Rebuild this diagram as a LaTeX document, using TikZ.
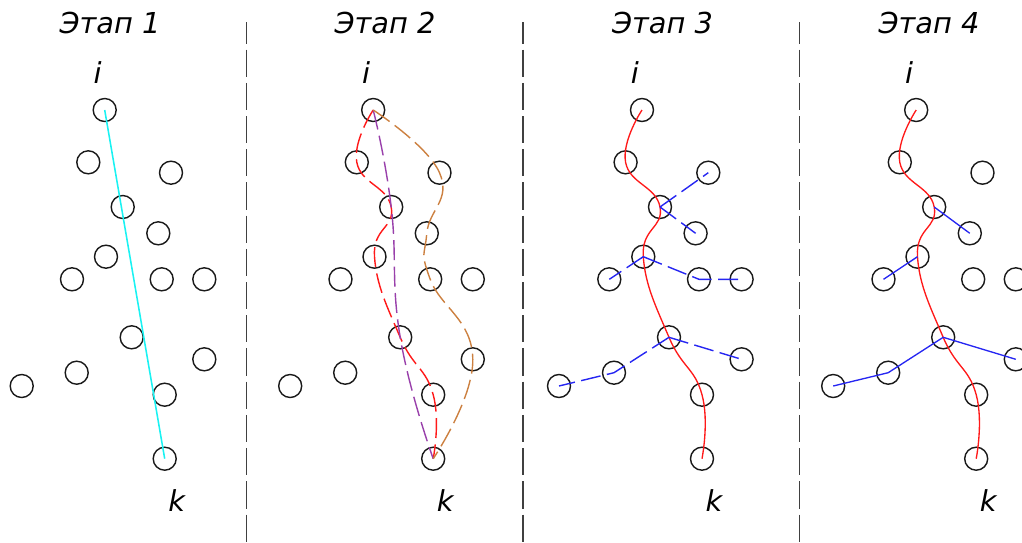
\documentclass[tikz,border=0pt]{standalone}
\usepackage{fontspec}
\setmainfont{DejaVu Sans}
\usepackage{tikz}
\usetikzlibrary{positioning}
\tikzset{vertex/.style = {circle, draw=black!90, line width=1pt,
                          minimum size=0.575cm, inner sep=0pt},
         heading/.style = {font=\fontsize{20.5}{24}\selectfont\itshape,
                           anchor=base, inner sep=0pt},
         lbl/.style = {font=\fontsize{20.5}{24}\selectfont\itshape, inner sep=0pt},
         divider/.style = {draw=black!75, line width=1.1pt,
                           dash pattern=on 0.68cm off 0.15cm, dash phase=0.14cm},
         route/.style = {line width=1pt, dash pattern=on 0.5cm off 0.16cm},
         tree/.style = {line width=0.95pt}}
\definecolor{mred}{rgb}{1, 0.1, 0.1}
\definecolor{mcyan}{rgb}{0.1, 0.95, 0.95}
\definecolor{mpurple}{rgb}{0.6, 0.25, 0.67}
\definecolor{morange}{rgb}{0.8, 0.5, 0.25}
\definecolor{mblue}{rgb}{0.15, 0.15, 0.95}

\begin{document}
\begin{tikzpicture}[x=0.025cm, y=-0.025cm]
    \useasboundingbox (0, 0) rectangle (1022, 542);

    \foreach \s/\dx in {1/0, 2/268.5, 3/537.3, 4/811.5} {
      \begin{scope}[shift={(\dx, 0)}]
        \node [vertex] (i\s) at (104.7, 110) {};
        \node [vertex] (a\s) at (88.3, 162.3) {};
        \node [vertex] (b\s) at (171, 172.7) {};
        \node [vertex] (c\s) at (122.7, 207) {};
        \node [vertex] (d\s) at (158.3, 233.3) {};
        \node [vertex] (e\s) at (106, 256.7) {};
        \node [vertex] (f\s) at (72, 279.3) {};
        \node [vertex] (g\s) at (161.7, 279.3) {};
        \node [vertex] (h\s) at (204.3, 279.3) {};
        \node [vertex] (m\s) at (131.7, 337.3) {};
        \node [vertex] (n\s) at (204.3, 359.3) {};
        \node [vertex] (p\s) at (76.7, 372.7) {};
        \node [vertex] (q\s) at (21.7, 386) {};
        \node [vertex] (r\s) at (164.7, 394.7) {};
        \node [vertex] (k\s) at (164.7, 458.7) {};
        \node [lbl, above=0.34cm of i\s, xshift=-0.175cm] (li\s) {i};
        \node [lbl, below=0.47cm of k\s, xshift=0.3cm] (lk\s) {k};
      \end{scope}
    }

    \node [heading] (t1) at (110, 33) {Этап 1};
    \node [heading] (t2) at (385, 33) {Этап 2};
    \node [heading] (t3) at (662.5, 33) {Этап 3};
    \node [heading] (t4) at (929, 33) {Этап 4};

    \draw [divider] (246.7, 22) -- (246.7, 548);
    \draw [divider] (523, 22) -- (523, 548);
    \draw [divider] (799.5, 22) -- (799.5, 548);

    % stage 1
    \draw [mcyan, line width=1.1pt] (i1.center) -- (k1.center);

    % stage 2
    \draw [route, mred] plot [smooth, tension=0.8] coordinates {(i2.center) (a2.center) (c2.center) (e2.center) (m2.center) (r2.center) (k2.center)};
    \draw [route, mpurple] plot [smooth, tension=0.8] coordinates {(i2.center) (c2.center) (m2.center) (k2.center)};
    \draw [route, morange] plot [smooth, tension=0.8] coordinates {(i2.center) (b2.center) (d2.center) (g2.center) (n2.center) (k2.center)};

    % stage 3
    \draw [tree, mred] plot [smooth, tension=0.8] coordinates {(i3.center) (a3.center) (c3.center) (e3.center) (m3.center) (r3.center) (k3.center)};
    \draw [route, mblue] (c3.center) -- (b3.center);
    \draw [route, mblue] (c3.center) -- (d3.center);
    \draw [route, mblue] (e3.center) -- (f3.center);
    \draw [route, mblue] (e3.center) -- (g3.center) -- (h3.center);
    \draw [route, mblue] (m3.center) -- (p3.center) -- (q3.center);
    \draw [route, mblue] (m3.center) -- (n3.center);

    % stage 4
    \draw [tree, mred] plot [smooth, tension=0.8] coordinates {(i4.center) (a4.center) (c4.center) (e4.center) (m4.center) (r4.center) (k4.center)};
    \draw [tree, mblue] (c4.center) -- (d4.center);
    \draw [tree, mblue] (e4.center) -- (f4.center);
    \draw [tree, mblue] (m4.center) -- (p4.center) -- (q4.center);
    \draw [tree, mblue] (m4.center) -- (n4.center);
\end{tikzpicture}
\end{document}
